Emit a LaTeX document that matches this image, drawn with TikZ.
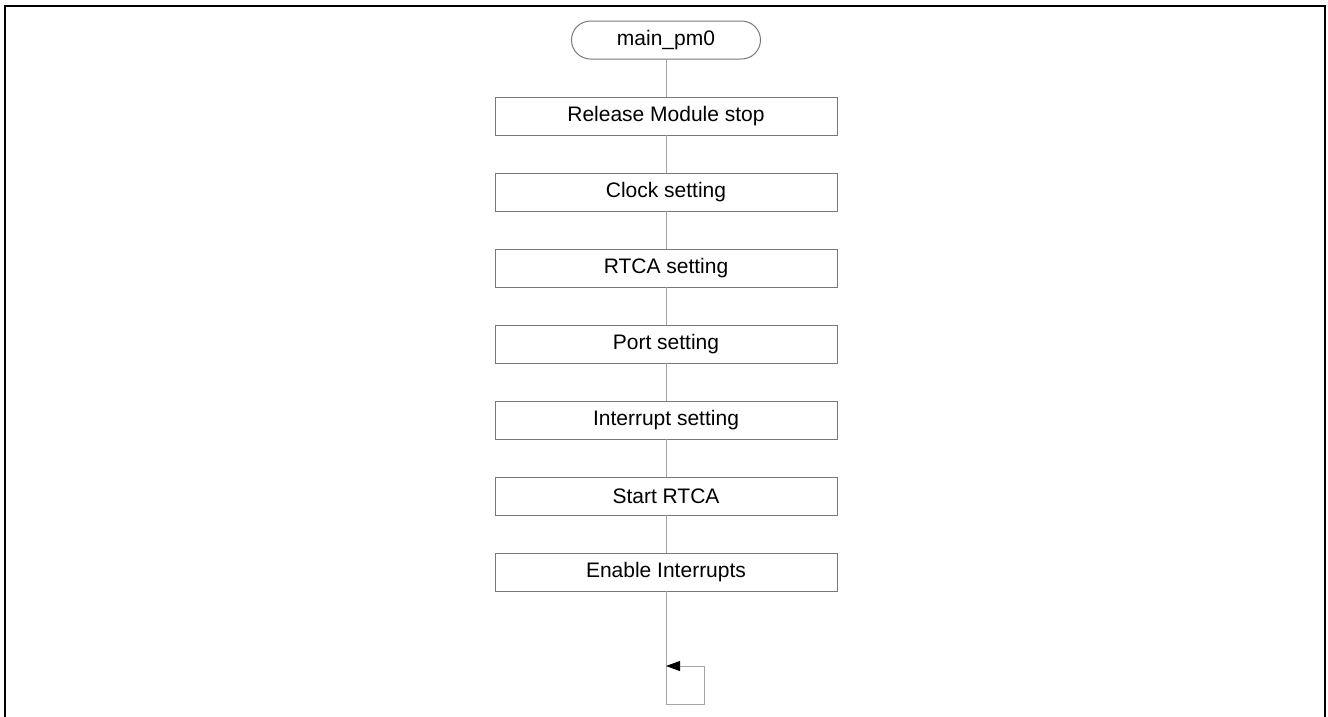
\documentclass[tikz,border=0pt]{standalone}
\usepackage{fontspec}
\setmainfont{Liberation Sans}
\usetikzlibrary{positioning,arrows.meta}
\definecolor{boxgray}{RGB}{120,120,120}
\definecolor{linegray}{RGB}{165,165,165}
\begin{document}
\begin{tikzpicture}[x=1pt,y=1pt,
	node distance=38pt,
	every node/.style={outer sep=0pt,inner sep=0pt,font=\fontsize{21}{23}\selectfont},
	stepbox/.style={draw=boxgray,line width=1pt,minimum width=342pt,minimum height=38pt},
	terminal/.style={draw=boxgray,line width=1pt,rounded corners=19pt,minimum width=189pt,minimum height=38pt},
	flow/.style={draw=linegray,line width=1pt}]
	\useasboundingbox (0,0) rectangle (1328,-716);
	\draw [black,line width=2pt] (5,-724) -- (5,-6) -- (1325,-6) -- (1325,-724);
	\node [terminal] (start) at (666,-40) {main\_pm0};
	\node [stepbox,below=of start] (s1) {Release Module stop};
	\node [stepbox,below=of s1] (s2) {Clock setting};
	\node [stepbox,below=of s2] (s3) {RTCA setting};
	\node [stepbox,below=of s3] (s4) {Port setting};
	\node [stepbox,below=of s4] (s5) {Interrupt setting};
	\node [stepbox,below=of s5] (s6) {Start RTCA};
	\node [stepbox,below=of s6] (s7) {Enable Interrupts};
	\draw [flow] (start) -- (s1);
	\foreach \a/\b in {s1/s2,s2/s3,s3/s4,s4/s5,s5/s6,s6/s7}
		\draw [flow] (\a) -- (\b);
	% endless loop
	\coordinate [below=113pt of s7.south] (loopa);
	\coordinate [right=38pt of loopa] (loopb);
	\coordinate [above=38pt of loopb] (loopc);
	\coordinate (loopd) at (s7.south |- loopc);
	\draw [flow] (s7.south) -- (loopa) -- (loopb) -- (loopc);
	\draw [flow,-{Triangle[length=14pt,width=10pt,fill=black,color=black]}] (loopc) -- (loopd);
\end{tikzpicture}
\end{document}
